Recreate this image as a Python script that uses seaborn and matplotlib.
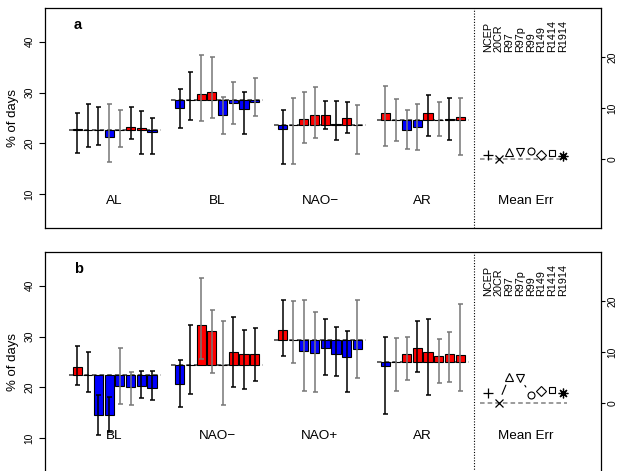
import numpy as np
import matplotlib
matplotlib.use("Agg")
import matplotlib.pyplot as plt
import seaborn as sns

# ---------------- data ----------------
models = ["NCEP", "20CR", "R97", "R97p", "R99", "R149", "R1414", "R1914"]

groups_a = ["AL", "BL", "NAO\u2212", "AR"]
ref_a = [22.55, 28.6, 23.6, 24.6]
val_a = [
    [22.9, 22.55, 22.65, 21.2, 22.55, 23.3, 23.1, 22.3],
    [27.0, 28.6, 29.75, 30.1, 25.55, 28.0, 26.7, 28.2],
    [22.9, 23.6, 24.9, 25.5, 25.6, 23.85, 25.0, 23.55],
    [26.0, 24.6, 22.7, 23.3, 26.0, 24.6, 24.85, 25.1],
]
hi_a = [
    [26.0, 27.8, 27.1, 27.8, 26.5, 27.1, 26.4, 25.0],
    [30.6, 34.1, 37.3, 36.9, 29.1, 32.0, 30.05, 32.8],
    [26.6, 29.0, 30.05, 31.0, 28.3, 28.3, 28.2, 27.5],
    [31.25, 28.7, 26.5, 27.8, 29.55, 28.1, 29.0, 29.0],
]
lo_a = [
    [18.1, 19.4, 19.75, 16.3, 19.35, 20.9, 18.0, 17.85],
    [23.1, 24.65, 24.4, 25.0, 21.8, 23.9, 21.9, 25.3],
    [15.9, 16.0, 20.1, 21.0, 22.8, 20.65, 22.0, 18.0],
    [19.6, 20.45, 19.0, 18.8, 21.4, 21.55, 20.7, 17.8],
]
dark_a = [
    [1, 1, 1, 0, 0, 1, 1, 1],
    [1, 1, 0, 0, 0, 0, 1, 0],
    [1, 0, 0, 0, 1, 1, 1, 0],
    [0, 0, 0, 0, 1, 0, 1, 0],
]
merr_a = [0.8, 0.0, 1.4, 1.4, 1.6, 0.7, 1.1, 0.45]

groups_b = ["BL", "NAO\u2212", "NAO+", "AR"]
ref_b = [22.5, 24.35, 29.3, 25.0]
val_b = [
    [23.95, 22.5, 14.5, 14.5, 20.2, 20.1, 20.3, 19.9],
    [20.65, 24.35, 32.25, 31.0, 24.35, 27.05, 26.5, 26.5],
    [31.3, 29.3, 27.2, 26.7, 27.7, 26.6, 26.0, 27.5],
    [24.3, 25.0, 26.5, 27.7, 26.9, 26.1, 26.6, 26.3],
]
hi_b = [
    [28.1, 27.0, 18.5, 18.1, 27.8, 23.0, 23.2, 23.2],
    [25.3, 32.3, 41.5, 35.2, 33.1, 33.75, 31.2, 31.6],
    [37.2, 37.0, 37.1, 34.8, 33.4, 31.8, 31.0, 37.1],
    [30.0, 29.7, 29.9, 33.1, 33.5, 29.6, 30.9, 36.3],
]
lo_b = [
    [20.5, 19.1, 10.7, 11.3, 16.85, 16.5, 17.9, 17.6],
    [16.25, 18.75, 25.5, 22.8, 16.65, 20.0, 19.7, 21.2],
    [26.1, 24.9, 19.3, 19.2, 22.4, 22.2, 19.1, 21.9],
    [14.7, 19.35, 21.4, 23.0, 18.6, 20.8, 21.0, 19.4],
]
dark_b = [
    [1, 1, 1, 1, 0, 0, 1, 1],
    [1, 1, 0, 0, 0, 1, 1, 1],
    [1, 0, 0, 0, 1, 1, 1, 0],
    [1, 0, 0, 1, 1, 0, 0, 0],
]
merr_b = [1.9, 0.0, 5.1, 4.9, 1.6, 2.4, 2.6, 1.9]

y_label = "% of days"
merr_label = "Mean Err"
left_ticks = [10, 20, 30, 40]
right_ticks = [0, 10, 20]

# ---------------- style / layout ----------------
sns.set_theme(style="white")
plt.rcParams["font.family"] = ["Liberation Sans", "DejaVu Sans"]

W, H = 621, 471
fig = plt.figure(figsize=(W / 100, H / 100), dpi=100)


def px_axes(l, t, r, b):
    return fig.add_axes([l / W, 1 - b / H, (r - l) / W, (b - t) / H])


GROUP_STEP = 9.6
ME_CENTER = 4 * GROUP_STEP
OFFS = np.arange(8) - 3.5
BAR_W = 0.85
XLIM = (-6.5, 45.47)
YLIM = (3.4, 46.6)
SEP_X = 33.6
R_OFF = 17.0
GRAY = "#767676"

marker_specs = [
    dict(marker="+", ms=7, mew=0.9),
    dict(marker="x", ms=5.5, mew=0.9),
    dict(marker="^", ms=6, mew=0.8, mfc="none"),
    dict(marker="v", ms=6, mew=0.8, mfc="none"),
    dict(marker="o", ms=5, mew=0.8, mfc="none"),
    dict(marker="D", ms=5, mew=0.8, mfc="none"),
    dict(marker="s", ms=4.5, mew=0.8, mfc="none"),
    dict(marker=(8, 2, 0), ms=7, mew=0.9),
]


def draw_panel(ax, letter, groups, ref, vals, lo, hi, dark, merr, lab_y):
    ax.set_xlim(XLIM)
    ax.set_ylim(YLIM)
    for gi, g in enumerate(groups):
        xc = gi * GROUP_STEP
        xs = xc + OFFS
        r = ref[gi]
        v = np.array(vals[gi])
        ax.plot([xc - 4.3, xc + 4.3], [r, r], ls=(0, (3, 2)), color="#3a3a3a",
                lw=1.1, zorder=1)
        cols = ["#ff0000" if vv > r else "#0000ff" for vv in v]
        ax.bar(xs, v - r, bottom=r, width=BAR_W, color=cols, edgecolor="black",
               linewidth=0.8, zorder=2)
        l = np.array(lo[gi])
        h = np.array(hi[gi])
        for j in range(8):
            ec = "black" if dark[gi][j] else GRAY
            ax.errorbar(xs[j], (l[j] + h[j]) / 2, yerr=(h[j] - l[j]) / 2, fmt="none",
                        ecolor=ec, elinewidth=1.1, capsize=1.8, capthick=1.1, zorder=3)
        ax.text(xc, lab_y, g, ha="center", va="center", fontsize=9.7, color="black")
    ax.text(ME_CENTER, lab_y, merr_label, ha="center", va="center", fontsize=9.7,
            color="black")
    ax.axvline(SEP_X, color="black", ls=(0, (1, 1.5)), lw=0.8)
    ax.text(-3.4, 43.2, letter, ha="center", va="center", fontsize=10.5,
            fontweight="bold", color="black")

    xm = ME_CENTER + OFFS
    for j, name in enumerate(models):
        ax.text(xm[j], 38.05, name, rotation=90, ha="center", va="bottom",
                fontsize=7.8, color="black")

    ax.set_xticks([])
    ax.set_yticks(left_ticks)
    ax.tick_params(axis="y", left=True, length=4, width=0.8, labelsize=7.4, pad=3.5,
                   labelrotation=90, colors="black")
    for t in ax.get_yticklabels():
        t.set_va("center")
    ax.set_ylabel(y_label, fontsize=9.5, color="black", va="center")
    ax.yaxis.set_label_coords(-0.058, 0.5)
    for s in ax.spines.values():
        s.set_color("black")
        s.set_linewidth(0.9)

    ax2 = ax.twinx()
    ax2.set_ylim(YLIM[0] - R_OFF, YLIM[1] - R_OFF)
    ax2.set_yticks(right_ticks)
    ax2.tick_params(axis="y", right=True, length=3, width=0.8, labelsize=7.4, pad=1.5,
                    labelrotation=90, colors="black")
    for t in ax2.get_yticklabels():
        t.set_va("center")
    ax2.grid(False)
    for s in ax2.spines.values():
        s.set_visible(False)

    ax2.plot([ME_CENTER - 4.2, ME_CENTER + 3.9], [0, 0], ls=(0, (3, 2)),
             color="#808080", lw=1.1, zorder=1)
    for j in range(8):
        ax2.plot(xm[j], merr[j], color="black", ls="none", zorder=4, **marker_specs[j])
    # R type="b" connecting segments with gaps around points
    gap = 9.0
    pts = ax2.transData.transform(np.column_stack([xm, merr]))
    inv = ax2.transData.inverted()
    for j in range(7):
        p0, p1 = pts[j], pts[j + 1]
        d = np.hypot(*(p1 - p0))
        if d > 2 * gap:
            u = (p1 - p0) / d
            a = inv.transform(p0 + u * gap)
            b = inv.transform(p1 - u * gap)
            ax2.plot([a[0], b[0]], [a[1], b[1]], color="black", lw=0.8, zorder=3)


ax_a = px_axes(45, 8, 601, 228)
ax_b = px_axes(45, 252, 601, 472)
draw_panel(ax_a, "a", groups_a, ref_a, val_a, lo_a, hi_a, dark_a, merr_a, 8.7)
draw_panel(ax_b, "b", groups_b, ref_b, val_b, lo_b, hi_b, dark_b, merr_b, 10.5)

fig.savefig("out.png", dpi=100, facecolor="white")
